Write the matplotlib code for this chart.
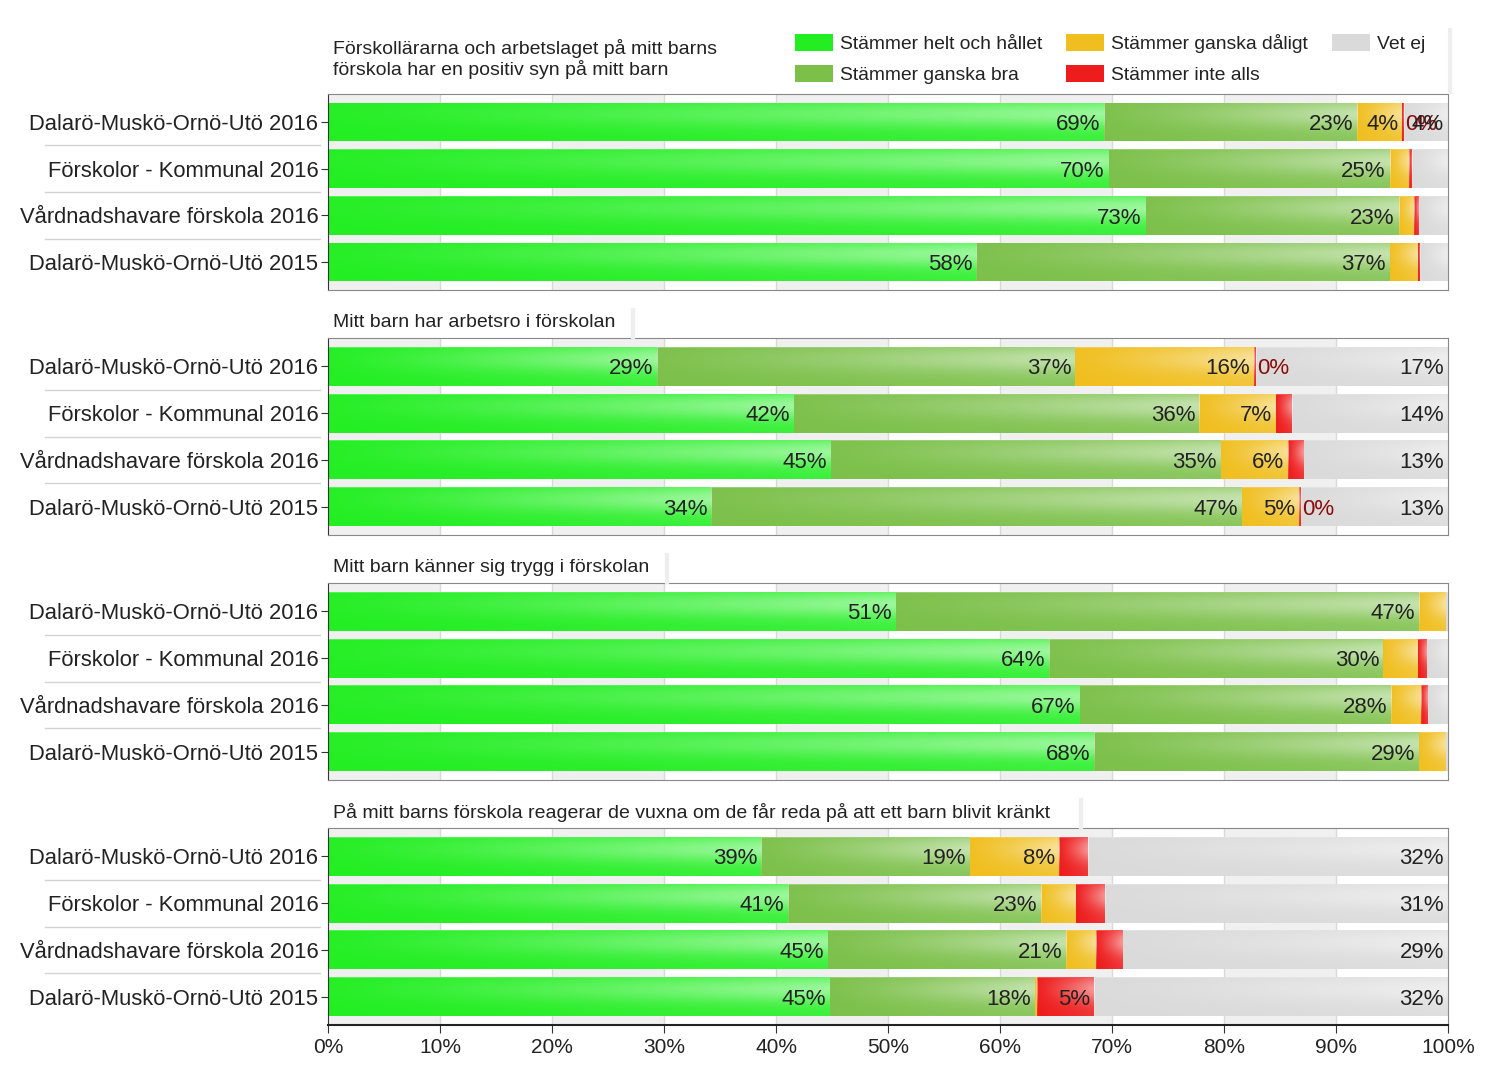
import numpy as np
import matplotlib.pyplot as plt
from matplotlib.patches import Patch
from matplotlib.lines import Line2D
from matplotlib.transforms import blended_transform_factory

plt.rcParams['font.family'] = ['Liberation Sans', 'DejaVu Sans']

categories = ["Dalarö-Muskö-Ornö-Utö 2016", "Förskolor - Kommunal 2016",
              "Vårdnadshavare förskola 2016", "Dalarö-Muskö-Ornö-Utö 2015"]
titles = ["Förskollärarna och arbetslaget på mitt barns\nförskola har en positiv syn på mitt barn",
          "Mitt barn har arbetsro i förskolan",
          "Mitt barn känner sig trygg i förskolan",
          "På mitt barns förskola reagerar de vuxna om de får reda på att ett barn blivit kränkt"]
series_names = ["Stämmer helt och hållet", "Stämmer ganska bra", "Stämmer ganska dåligt",
                "Stämmer inte alls", "Vet ej"]
colors = ['#22ee22', '#7cc04a', '#f0be1e', '#ee1c1c', '#dadada']

# one list per question (panel), one value per category row, in percent
helt = [[69.3, 69.7, 73.0, 57.9],
        [29.4, 41.6, 44.9, 34.2],
        [50.7, 64.4, 67.1, 68.4],
        [38.7, 41.1, 44.6, 44.8]]
bra = [[22.6, 25.1, 22.6, 36.9],
       [37.3, 36.2, 34.8, 47.4],
       [46.7, 29.8, 27.8, 29.0],
       [18.6, 22.6, 21.3, 18.3]]
daligt = [[4.0, 1.7, 1.4, 2.5],
          [16.0, 6.8, 6.0, 5.1],
          [2.4, 3.1, 2.7, 2.4],
          [8.0, 3.1, 2.7, 0.2]]
inte = [[0.2, 0.3, 0.4, 0.2],
        [0.2, 1.5, 1.4, 0.2],
        [0.0, 0.8, 0.6, 0.0],
        [2.6, 2.6, 2.4, 5.1]]
vetej = [[3.9, 3.2, 2.6, 2.5],
         [17.1, 13.9, 12.9, 13.1],
         [0.2, 2.0, 1.8, 0.2],
         [32.1, 30.6, 29.0, 31.6]]
series = [helt, bra, daligt, inte, vetej]

# (panel, row) where the tiny "Stämmer inte alls" value still gets a label
zero_labels = [(0, 0), (1, 0), (1, 3)]

W, H = 1500, 1075
boxes = [(94, 290), (338, 535), (583, 780), (828, 1025)]   # pixel top/bottom of plot areas
title_y = [59, 323, 568, 813]

fig = plt.figure(figsize=(W / 100, H / 100), dpi=100)


def gloss(ax, patch):
    # white highlight: stronger to the right and in the upper part of the bar
    x0, w = patch.get_x(), patch.get_width()
    y0, h = patch.get_y(), patch.get_height()
    if w <= 0:
        return
    yy, xx = np.mgrid[0:1:40j, 0:1:120j]
    a = 0.55 * (0.05 + 0.95 * xx ** 1.2) * (0.2 + 0.8 * np.exp(-((yy - 0.3) / 0.35) ** 2))
    a[:1, :] = np.maximum(a[:1, :], 0.25)
    rgba = np.ones((40, 120, 4))
    rgba[..., 3] = a
    im = ax.imshow(rgba, extent=(x0, x0 + w, y0 + h, y0), origin='upper',
                   aspect='auto', zorder=2.5, interpolation='bilinear')
    im.set_clip_path(patch)


axes = []
for p, (top, bot) in enumerate(boxes):
    ax = fig.add_axes([328 / W, 1 - bot / H, 1120 / W, (bot - top) / H])
    axes.append(ax)
    y = np.arange(4)
    for k in range(0, 100, 20):
        ax.axvspan(k, k + 10, color='#f0f0f0', zorder=0, lw=0)
    for k in range(10, 100, 10):
        ax.axvline(k, color='#d9d9d9', lw=1, zorder=0.5)

    left = np.zeros(4)
    for s, data in enumerate(series):
        v = np.array(data[p])
        bars = ax.barh(y, v, left=left, height=0.83, color=colors[s], edgecolor='none', zorder=2)
        for patch in bars:
            gloss(ax, patch)
        for i in range(4):
            if v[i] >= 3.5:
                ax.text(left[i] + v[i] - 0.35, y[i] + 0.06, f"{v[i]:.0f}%", ha='right', va='center',
                        fontsize=16, color='#222222', zorder=4)
            elif s == 3 and (p, i) in zero_labels:
                ax.text(left[i] + v[i] + 0.1, y[i] + 0.06, f"{v[i]:.0f}%", ha='left', va='center',
                        fontsize=16, color='#8b0a0a', zorder=4)
        left += v

    ax.set_xlim(0, 100)
    ax.set_ylim(3.6, -0.6)
    ax.set_yticks(y)
    ax.set_yticklabels(categories, fontsize=15.8, color='#222222')
    ax.tick_params(axis='y', length=5, pad=2, color='#333333')
    for sp in ax.spines.values():
        sp.set_color('#888888')
    ax.spines['left'].set_color('#333333')

    tr = blended_transform_factory(ax.transAxes, ax.transData)
    for b in (0.5, 1.5, 2.5):
        ax.plot([-0.253, -0.007], [b, b], transform=tr, color='#d2d2d2', lw=1, clip_on=False)

    if p < 3:
        ax.tick_params(axis='x', bottom=False, labelbottom=False)
    else:
        ax.set_xticks(range(0, 101, 10))
        ax.set_xticklabels([f"{k}%" for k in range(0, 101, 10)], fontsize=15, color='#222222')
        ax.tick_params(axis='x', length=6, color='#333333')
        ax.spines['bottom'].set_color('#222222')
        ax.spines['bottom'].set_linewidth(1.5)

    fig.text(333 / W, 1 - title_y[p] / H, titles[p], fontsize=14, color='#222222',
             ha='left', va='center', linespacing=1.15)

# faint shadows at the right of the title boxes
for x, (y0, y1) in zip([1450, 633, 667, 1081], [(30, 92), (310, 337), (555, 582), (800, 827)]):
    fig.add_artist(Line2D([x / W, x / W], [1 - y0 / H, 1 - y1 / H], transform=fig.transFigure,
                          color='#eeeeee', lw=3))

handles = [Patch(facecolor=c, edgecolor='none') for c in colors]
fig.legend(handles, series_names, ncol=3, loc='upper left',
           bbox_to_anchor=(795 / W, 1 - 34 / H), frameon=False, fontsize=13.9,
           handlelength=1.97, handleheight=1.0, handletextpad=0.36,
           columnspacing=1.24, labelspacing=0.6, borderaxespad=0, borderpad=0,
           labelcolor='#222222')

fig.savefig('out.png', dpi=100)
